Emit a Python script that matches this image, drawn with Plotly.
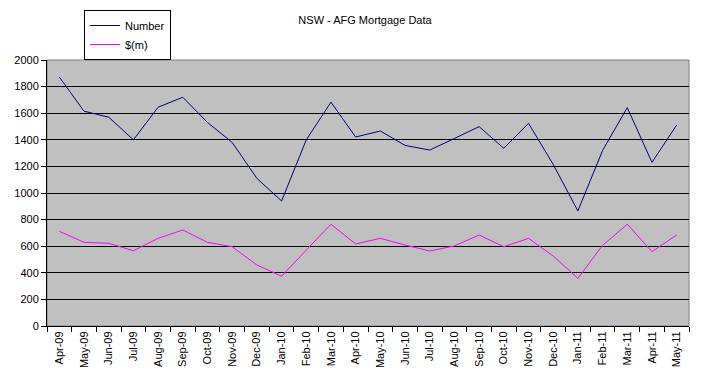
import plotly.graph_objects as go

months = ["Apr-09","May-09","Jun-09","Jul-09","Aug-09","Sep-09","Oct-09","Nov-09","Dec-09",
          "Jan-10","Feb-10","Mar-10","Apr-10","May-10","Jun-10","Jul-10","Aug-10","Sep-10",
          "Oct-10","Nov-10","Dec-10","Jan-11","Feb-11","Mar-11","Apr-11","May-11"]
number = [1872, 1615, 1570, 1400, 1645, 1720, 1530, 1380, 1110, 940, 1400, 1683, 1421,
          1466, 1358, 1323, 1410, 1499, 1336, 1524, 1215, 865, 1320, 1642, 1230, 1511]
dollars = [712, 629, 622, 566, 659, 722, 629, 596, 459, 374, 571, 765, 617,
           659, 609, 564, 602, 684, 596, 659, 526, 359, 606, 765, 559, 684]

font = dict(family="Liberation Sans, Arial, sans-serif", size=11, color="black")

W, H = 710, 378  # page adds 8px body margin
L, R, T, B = 39, 29, 52, 60

fig = go.Figure()
fig.add_trace(go.Scatter(x=months, y=number, mode="lines", name="Number",
                         line=dict(color="#000080", width=1)))
fig.add_trace(go.Scatter(x=months, y=dollars, mode="lines", name="$(m)",
                         line=dict(color="#FF00FF", width=1)))

pw = W - L - R
ph = H - T - B
fig.update_layout(
    width=W, height=H,
    margin=dict(l=L, r=R, t=T, b=B, autoexpand=False),
    paper_bgcolor="white", plot_bgcolor="#C0C0C0",
    font=font,
    title=dict(text="NSW - AFG Mortgage Data", x=(365 - 8) / W, xref="container",
               y=1 - 12 / H, yref="container", xanchor="center", yanchor="middle",
               font=dict(size=11)),
    legend=dict(x=(84 - 8 - L) / pw, y=(T + ph - 2) / ph, xanchor="left", yanchor="top",
                bordercolor="black", borderwidth=1, bgcolor="white", font=dict(size=11),
                tracegroupgap=0, itemwidth=30),
    showlegend=True,
)
fig.update_xaxes(type="category", range=[-0.5, len(months) - 0.5], tickangle=-90,
                 ticks="outside", tickson="boundaries", automargin=False,
                 ticklen=5, tickcolor="black", showgrid=False, showline=True,
                 linecolor="black", linewidth=1, tickfont=font)
fig.update_yaxes(range=[0, 2000], dtick=200, ticks="outside", ticklen=5, tickcolor="black",
                 automargin=False,
                 showgrid=True, gridcolor="black", gridwidth=1, showline=True,
                 linecolor="black", linewidth=1, zeroline=False, tickfont=font)
fig.add_shape(type="rect", xref="paper", yref="paper", x0=0, y0=0, x1=1, y1=1,
              line=dict(color="#808080", width=1), layer="below")
fig.write_html("out.html")
